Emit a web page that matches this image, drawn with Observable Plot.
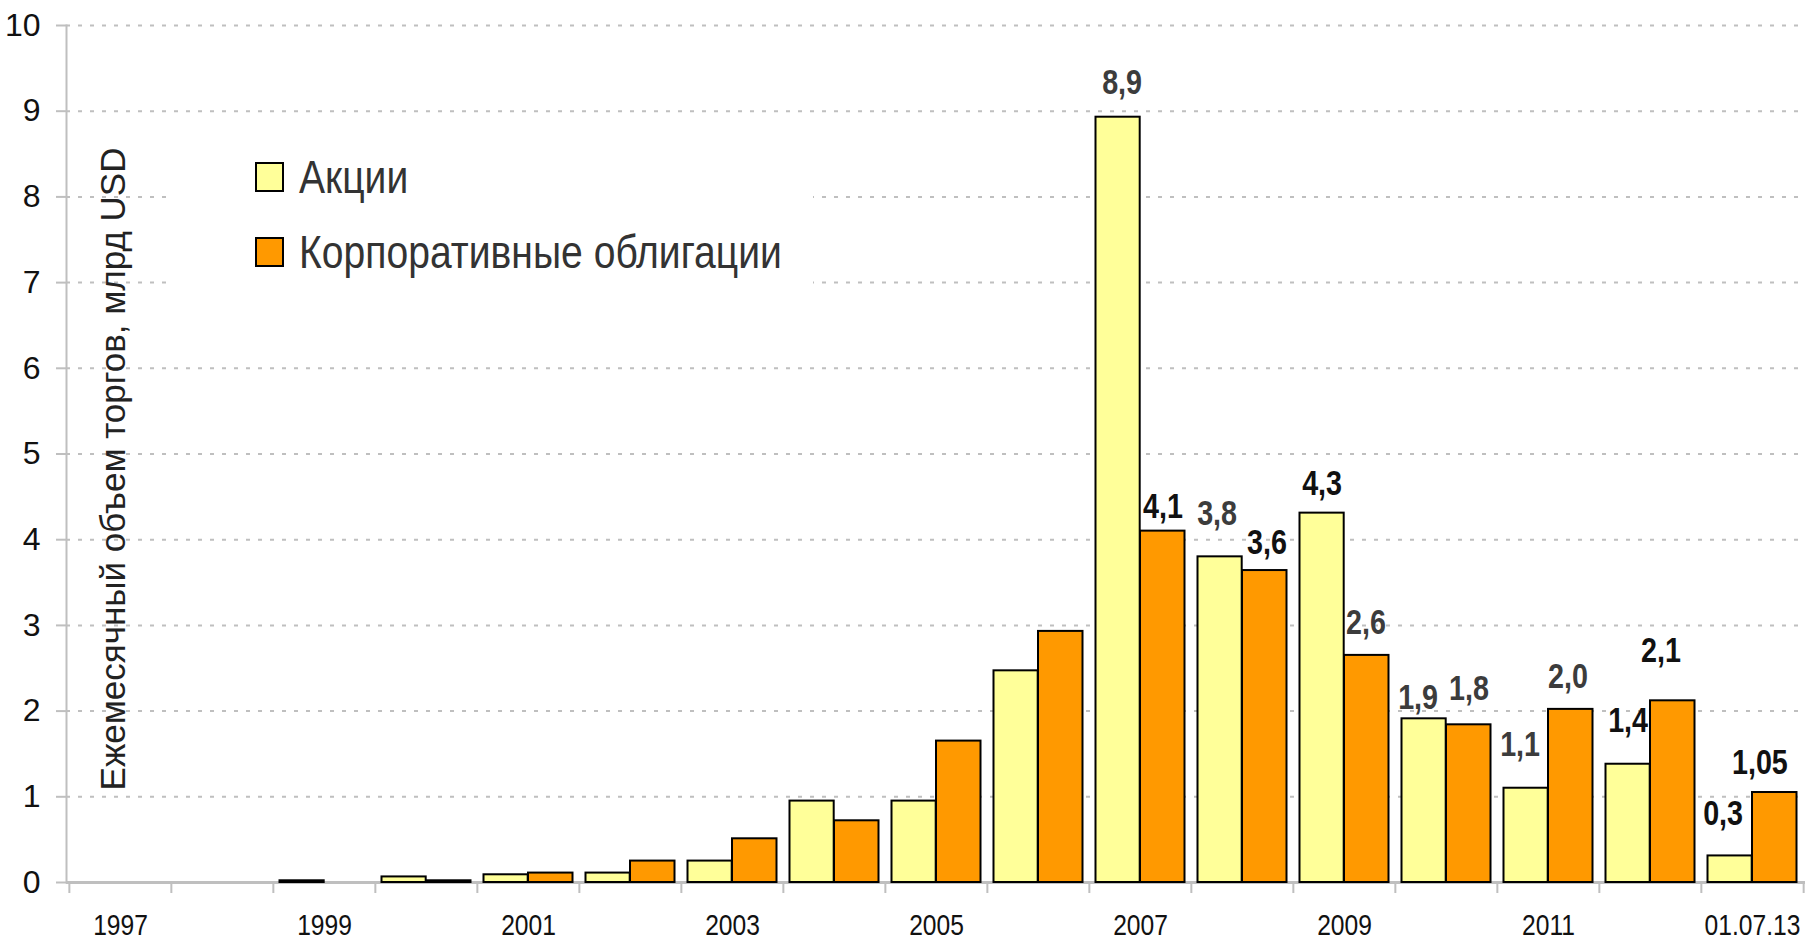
<!DOCTYPE html>
<html>
<head>
<meta charset="utf-8">
<script src="https://cdn.jsdelivr.net/npm/d3@7"></script>
<script src="https://cdn.jsdelivr.net/npm/@observablehq/plot@0.6"></script>
<style>
  html, body { margin: 0; padding: 0; background: #fff; }
  #chart { position: relative; width: 1806px; height: 942px; }
</style>
</head>
<body>
<div id="chart"></div>
<script>
// ---- data ----
const categories = ["1997","1998","1999","2000","2001","2002","2003","2004","2005","2006","2007","2008","2009","2010","2011","2012","01.07.13"];
const stocks = [0, 0, 0.02, 0.065, 0.09, 0.11, 0.25, 0.95, 0.95, 2.47, 8.93, 3.8, 4.31, 1.91, 1.1, 1.38, 0.31];
const bonds  = [0, 0, 0, 0.02, 0.11, 0.25, 0.51, 0.72, 1.65, 2.93, 4.1, 3.64, 2.65, 1.84, 2.02, 2.12, 1.05];
const seriesNames = ["Акции", "Корпоративные облигации"];
const xTickLabels = ["1997","1999","2001","2003","2005","2007","2009","2011","01.07.13"];
const yTicks = [0,1,2,3,4,5,6,7,8,9,10];
const yTitle = "Ежемесячный объем торгов, млрд USD";
// value labels for the last seven periods
const labelCategories = ["2007","2008","2009","2010","2011","2012","01.07.13"];
const stockLabels = ["8,9","3,8","4,3","1,9","1,1","1,4","0,3"];
const bondLabels  = ["4,1","3,6","2,6","1,8","2,0","2,1","1,05"];

// ---- layout (styles / offsets, not data) ----
const W = 1806, H = 942;
const mL = 66, mR = 1, mT = 25, mB = 60;
const bw = (W - mL - mR) / categories.length;
const half = 22.4;
const stockLabelStyle = [ // [dx, up, dark]
  [4, 34, false], [-3, 43, false], [0, 29, true], [-6, 21, false], [-6, 43, false], [0, 43, true], [-7, 42, true]
];
const bondLabelStyle = [
  [0, 24, true], [2, 28, true], [-1, 33, false], [0, 36, false], [-3, 33, false], [-12, 50, true], [-15, 30, true]
];
const FONT = "'Liberation Sans', Arial, sans-serif";
const NARROW_FACTOR = 0.82, LEGEND_FACTOR = 0.85;
const colYellow = "#ffff99", colOrange = "#ff9900", gridCol = "#bfbfbf";

const stockData = categories.map((c, i) => ({cat: c, value: stocks[i]})).filter(d => d.value > 0);
const bondData  = categories.map((c, i) => ({cat: c, value: bonds[i]})).filter(d => d.value > 0);

const labelMarks = [];
labelCategories.forEach((c, j) => {
  const i = categories.indexOf(c);
  const s = stockLabelStyle[j], b = bondLabelStyle[j];
  labelMarks.push(Plot.text([{cat: c, value: stocks[i], t: stockLabels[j]}], {
    x: "cat", y: "value", text: "t", dx: -half + s[0], dy: -s[1],
    lineAnchor: "middle", textAnchor: "middle", fontSize: 35, fontWeight: "bold",
    fontFamily: FONT, fill: s[2] ? "#111" : "#3c3c3c", className: "narrow"
  }));
  labelMarks.push(Plot.text([{cat: c, value: bonds[i], t: bondLabels[j]}], {
    x: "cat", y: "value", text: "t", dx: half + b[0], dy: -b[1],
    lineAnchor: "middle", textAnchor: "middle", fontSize: 35, fontWeight: "bold",
    fontFamily: FONT, fill: b[2] ? "#111" : "#3c3c3c", className: "narrow"
  }));
});

const chart = Plot.plot({
  width: W, height: H,
  marginLeft: mL, marginRight: mR, marginTop: mT, marginBottom: mB,
  style: {background: "#fff", overflow: "visible"},
  x: {type: "band", domain: categories, padding: 0, axis: null},
  y: {domain: [0, 10], axis: null},
  marks: [
    Plot.gridY(yTicks.slice(1), {stroke: gridCol, strokeOpacity: 1, strokeWidth: 2, strokeDasharray: "4,8"}),
    Plot.frame({anchor: "left", stroke: gridCol, strokeWidth: 2}),
    Plot.axisY(yTicks, {tickSize: 10, tickPadding: 16, stroke: gridCol, strokeWidth: 2,
      tickFormat: d => String(d), textAnchor: "end",
      fontSize: 32, fontFamily: FONT, fill: "#111", label: null}),
    Plot.ruleY([0], {stroke: gridCol, strokeWidth: 3}),
    Plot.axisX(categories, {tickSize: 11, tickFormat: () => "", dx: -bw / 2, stroke: gridCol, strokeWidth: 2, label: null}),
    Plot.axisX([categories[categories.length - 1]], {tickSize: 11, tickFormat: () => "", dx: bw / 2, stroke: gridCol, strokeWidth: 2, label: null}),
    Plot.axisX(xTickLabels, {tickSize: 0, tickPadding: 31, fontSize: 30, fontFamily: FONT, fill: "#111", label: null, className: "narrow"}),
    Plot.barY(stockData, {x: "cat", y: "value", fill: colYellow, stroke: "#000", strokeWidth: 2, insetLeft: 6.5, insetRight: 51.3}),
    Plot.barY(bondData, {x: "cat", y: "value", fill: colOrange, stroke: "#000", strokeWidth: 2, insetLeft: 51, insetRight: 6.5}),
    ...labelMarks
  ]
});

document.getElementById("chart").appendChild(chart);

const svg = d3.select(chart);
// y-axis title (rotated, inside the plot area)
svg.append("text")
  .attr("transform", "translate(125,469) rotate(-90)")
  .attr("text-anchor", "middle")
  .attr("font-family", FONT).attr("font-size", 35).attr("fill", "#222")
  .text(yTitle);

// legend drawn inside the SVG
const lg = svg.append("g").attr("class", "legend");
lg.append("rect").attr("x", 168).attr("y", 125).attr("width", 645).attr("height", 170).attr("fill", "#fff");
const legendCols = [colYellow, colOrange];
seriesNames.forEach((name, i) => {
  const y0 = 163 + i * 75;
  lg.append("rect").attr("x", 256).attr("y", y0).attr("width", 27).attr("height", 28)
    .attr("fill", legendCols[i]).attr("stroke", "#000").attr("stroke-width", 2);
  lg.append("text").attr("class", "narrow-legend").attr("x", 299).attr("y", y0 + 30).text(name)
    .attr("text-anchor", "start")
    .attr("font-family", FONT).attr("font-size", 46).attr("fill", "#333");
});
// keep value labels above the legend background
svg.selectAll("g.narrow").raise();

// emulate a narrow typeface (Arial Narrow) by horizontally compressing glyphs
function compress(sel, factor) {
  sel.each(function() {
    const len = this.getComputedTextLength();
    if (len > 0) {
      this.setAttribute("textLength", (len * factor).toFixed(2));
      this.setAttribute("lengthAdjust", "spacingAndGlyphs");
    }
  });
}
compress(svg.selectAll(".narrow text"), NARROW_FACTOR);
compress(svg.selectAll("text.narrow-legend"), LEGEND_FACTOR);
</script>
</body>
</html>
